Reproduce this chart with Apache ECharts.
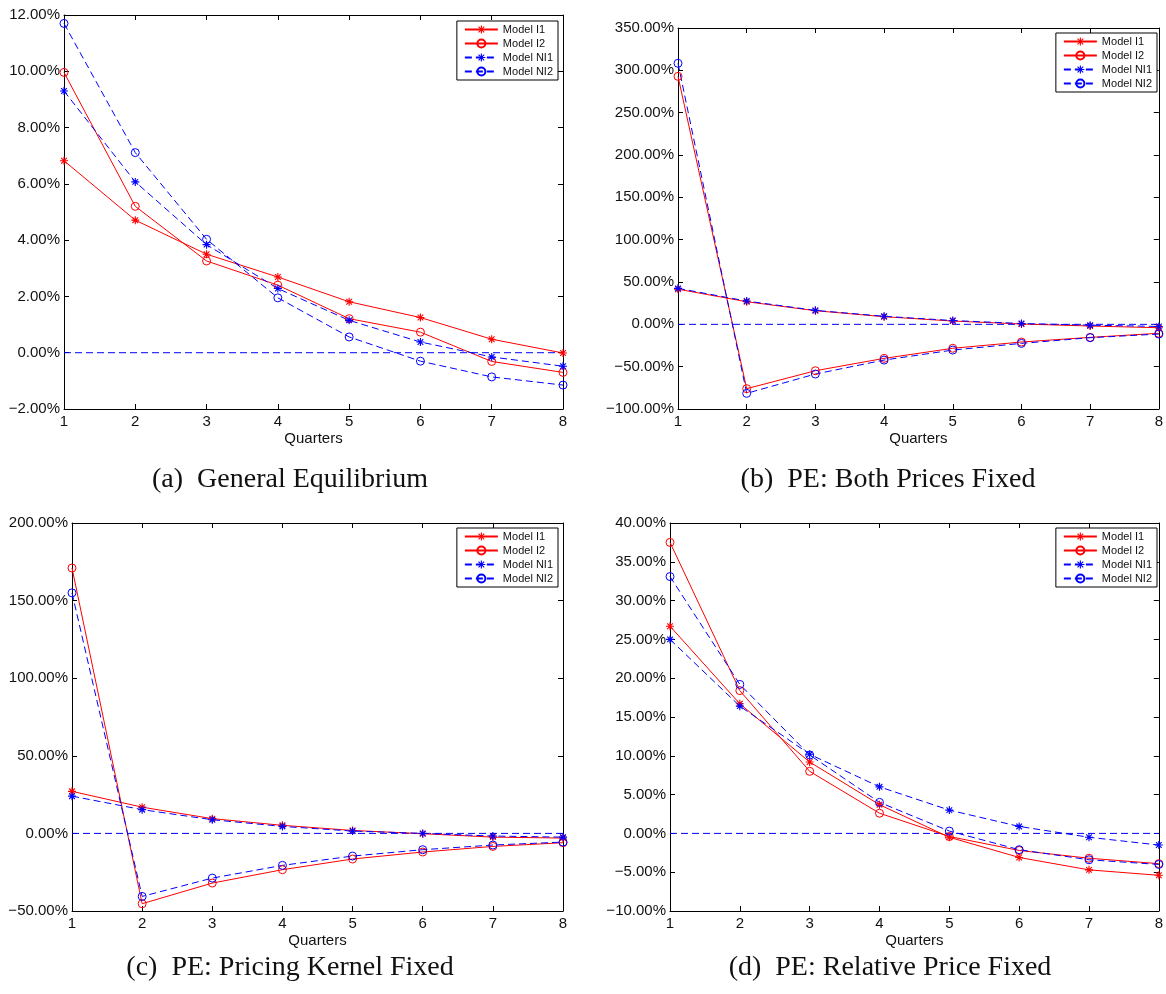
<!DOCTYPE html>
<html>
<head>
<meta charset="utf-8">
<title>Model responses by quarter</title>
<script src="https://cdn.jsdelivr.net/npm/echarts@6/dist/echarts.min.js"></script>
<style>
  html, body { margin: 0; padding: 0; background: #fff; }
  #chart { width: 1166px; height: 994px; }
</style>
</head>
<body>
<div id="chart"></div>
<script>
const quarters = [1, 2, 3, 4, 5, 6, 7, 8];
const modelNames = ['Model I1', 'Model I2', 'Model NI1', 'Model NI2'];
// dashed reference line at zero, drawn across the quarters
const zeroLine = [[1, 0], [8, 0]];

// (a) General Equilibrium, in percent
const geI1 = [6.82, 4.71, 3.50, 2.69, 1.81, 1.25, 0.48, -0.01];
const geI2 = [9.96, 5.20, 3.26, 2.40, 1.21, 0.73, -0.31, -0.70];
const geNI1 = [9.30, 6.07, 3.84, 2.28, 1.15, 0.38, -0.15, -0.48];
const geNI2 = [11.70, 7.11, 4.03, 1.95, 0.56, -0.30, -0.86, -1.15];

// (b) PE: Both Prices Fixed
const bothI1 = [41.5, 26.7, 16.1, 9.0, 3.9, 0.4, -2.0, -4.0];
const bothI2 = [292.9, -76.0, -54.8, -40.2, -28.3, -20.9, -15.4, -10.6];
const bothNI1 = [42.5, 27.5, 16.5, 9.5, 4.5, 1.0, -1.0, -2.5];
const bothNI2 = [308.3, -81.5, -58.7, -42.2, -30.4, -22.5, -15.8, -11.5];

// (c) PE: Pricing Kernel Fixed
const kernelI1 = [27.1, 16.9, 9.5, 5.2, 1.9, -0.2, -2.4, -3.0];
const kernelI2 = [171.0, -45.3, -32.0, -23.4, -16.5, -12.0, -8.4, -6.0];
const kernelNI1 = [24.0, 15.3, 8.8, 4.5, 1.5, 0.0, -1.7, -2.4];
const kernelNI2 = [155.0, -40.6, -28.8, -20.6, -14.6, -10.5, -7.5, -5.6];

// (d) PE: Relative Price Fixed
const relI1 = [26.7, 16.7, 9.2, 3.7, -0.5, -3.1, -4.7, -5.4];
const relI2 = [37.5, 18.4, 8.0, 2.6, -0.4, -2.2, -3.2, -3.9];
const relNI1 = [25.0, 16.4, 10.2, 6.0, 3.0, 0.9, -0.5, -1.5];
const relNI2 = [33.1, 19.2, 10.1, 4.0, 0.3, -2.1, -3.4, -4.0];

// y axis ranges [min, max, interval]
const yRanges = [[-2, 12, 2], [-100, 350, 50], [-50, 200, 50], [-10, 40, 5]];
const captions = [
  '(a)  General Equilibrium',
  '(b)  PE: Both Prices Fixed',
  '(c)  PE: Pricing Kernel Fixed',
  '(d)  PE: Relative Price Fixed'
];

const panels = [
  { grid: { left: 64, top: 15, width: 499, height: 394 }, legend: { right: 608, top: 21 }, caption: [290, 480], data: [geI1, geI2, geNI1, geNI2] },
  { grid: { left: 678, top: 28, width: 484, height: 381 }, legend: { right: 9, top: 33 }, caption: [888, 480], data: [bothI1, bothI2, bothNI1, bothNI2] },
  { grid: { left: 72, top: 523, width: 491, height: 388 }, legend: { right: 608, top: 528 }, caption: [290, 968], data: [kernelI1, kernelI2, kernelNI1, kernelNI2] },
  { grid: { left: 670, top: 523, width: 492, height: 388 }, legend: { right: 9, top: 528 }, caption: [890, 968], data: [relI1, relI2, relNI1, relNI2] }
];

const RED = '#ff0000';
const BLUE = '#0000ff';
const DASH = [7, 4];
const FONT = 'Liberation Sans';
// matlab style '*' marker
const STAR = 'path://M-5,-0.7L5,-0.7L5,0.7L-5,0.7Z M-0.7,-5L0.7,-5L0.7,5L-0.7,5Z M-3.04,-4.03L4.03,3.04L3.04,4.03L-4.03,-3.04Z M-4.03,3.04L3.04,-4.03L4.03,-3.04L-3.04,4.03Z';

function pct(v) {
  return (v < 0 ? '\u2212' : '') + Math.abs(v).toFixed(2) + '%';
}

const styles = [
  { symbol: STAR, color: RED, dashed: false, hollow: false },
  { symbol: 'circle', color: RED, dashed: false, hollow: true },
  { symbol: STAR, color: BLUE, dashed: true, hollow: false },
  { symbol: 'circle', color: BLUE, dashed: true, hollow: true }
];

const grids = [], xAxes = [], yAxes = [], series = [], legends = [], texts = [];

panels.forEach((p, g) => {
  grids.push(Object.assign({ containLabel: false }, p.grid));

  const tick = { show: true, inside: true, length: 5, lineStyle: { color: '#000', width: 1 } };
  const line = { show: true, onZero: false, lineStyle: { color: '#000', width: 1 } };

  xAxes.push({
    type: 'value', gridIndex: g, position: 'bottom', min: 1, max: 8, interval: 1,
    axisLine: line, axisTick: tick, splitLine: { show: false },
    axisLabel: { margin: 5, color: '#111', fontFamily: FONT, fontSize: 15 },
    name: 'Quarters', nameLocation: 'middle', nameGap: 22,
    nameTextStyle: { color: '#111', fontFamily: FONT, fontSize: 15 }
  });
  xAxes.push({
    type: 'value', gridIndex: g, position: 'top', min: 1, max: 8, interval: 1,
    axisLine: line, axisTick: tick, splitLine: { show: false }, axisLabel: { show: false }
  });

  const [ymin, ymax, yint] = yRanges[g];
  yAxes.push({
    type: 'value', gridIndex: g, position: 'left', min: ymin, max: ymax, interval: yint,
    axisLine: line, axisTick: tick, splitLine: { show: false },
    axisLabel: { margin: 4, color: '#111', fontFamily: FONT, fontSize: 15, formatter: pct }
  });
  yAxes.push({
    type: 'value', gridIndex: g, position: 'right', min: ymin, max: ymax, interval: yint,
    axisLine: line, axisTick: tick, splitLine: { show: false }, axisLabel: { show: false }
  });

  // zero line goes first so the model lines sit on top of it
  series.push({
    type: 'line',
    name: 'zero',
    xAxisIndex: 2 * g,
    yAxisIndex: 2 * g,
    data: zeroLine,
    showSymbol: false,
    silent: true,
    emphasis: { disabled: true },
    lineStyle: { color: BLUE, width: 1, type: DASH },
    itemStyle: { color: BLUE }
  });

  p.data.forEach((vals, k) => {
    const st = styles[k];
    series.push({
      type: 'line',
      name: modelNames[k],
      xAxisIndex: 2 * g,
      yAxisIndex: 2 * g,
      data: quarters.map((q, i) => [q, vals[i]]),
      symbol: st.symbol,
      symbolSize: 8,
      showSymbol: true,
      silent: true,
      emphasis: { disabled: true },
      lineStyle: { color: st.color, width: 1, type: st.dashed ? DASH : 'solid' },
      itemStyle: st.hollow
        ? { color: 'rgba(255,255,255,0)', borderColor: st.color, borderWidth: 1 }
        : { color: st.color, borderWidth: 0 }
    });
  });

  legends.push({
    data: modelNames,
    orient: 'vertical',
    right: p.legend.right,
    top: p.legend.top,
    backgroundColor: '#fff',
    borderColor: '#000',
    borderWidth: 1,
    borderRadius: 0,
    padding: [3, 5, 3, 7],
    itemGap: 3,
    itemWidth: 33,
    itemHeight: 10,
    selectedMode: false,
    textStyle: { color: '#111', fontFamily: FONT, fontSize: 11 }
  });

  texts.push({
    type: 'text',
    x: p.caption[0],
    y: p.caption[1],
    style: {
      text: captions[g],
      fill: '#111',
      font: '28px "Liberation Serif"',
      textAlign: 'center',
      textVerticalAlign: 'middle'
    }
  });
});

const chart = echarts.init(document.getElementById('chart'), null, { renderer: 'canvas' });
chart.setOption({
  animation: false,
  backgroundColor: '#fff',
  grid: grids,
  xAxis: xAxes,
  yAxis: yAxes,
  legend: legends,
  series: series,
  graphic: texts
});
</script>
</body>
</html>
